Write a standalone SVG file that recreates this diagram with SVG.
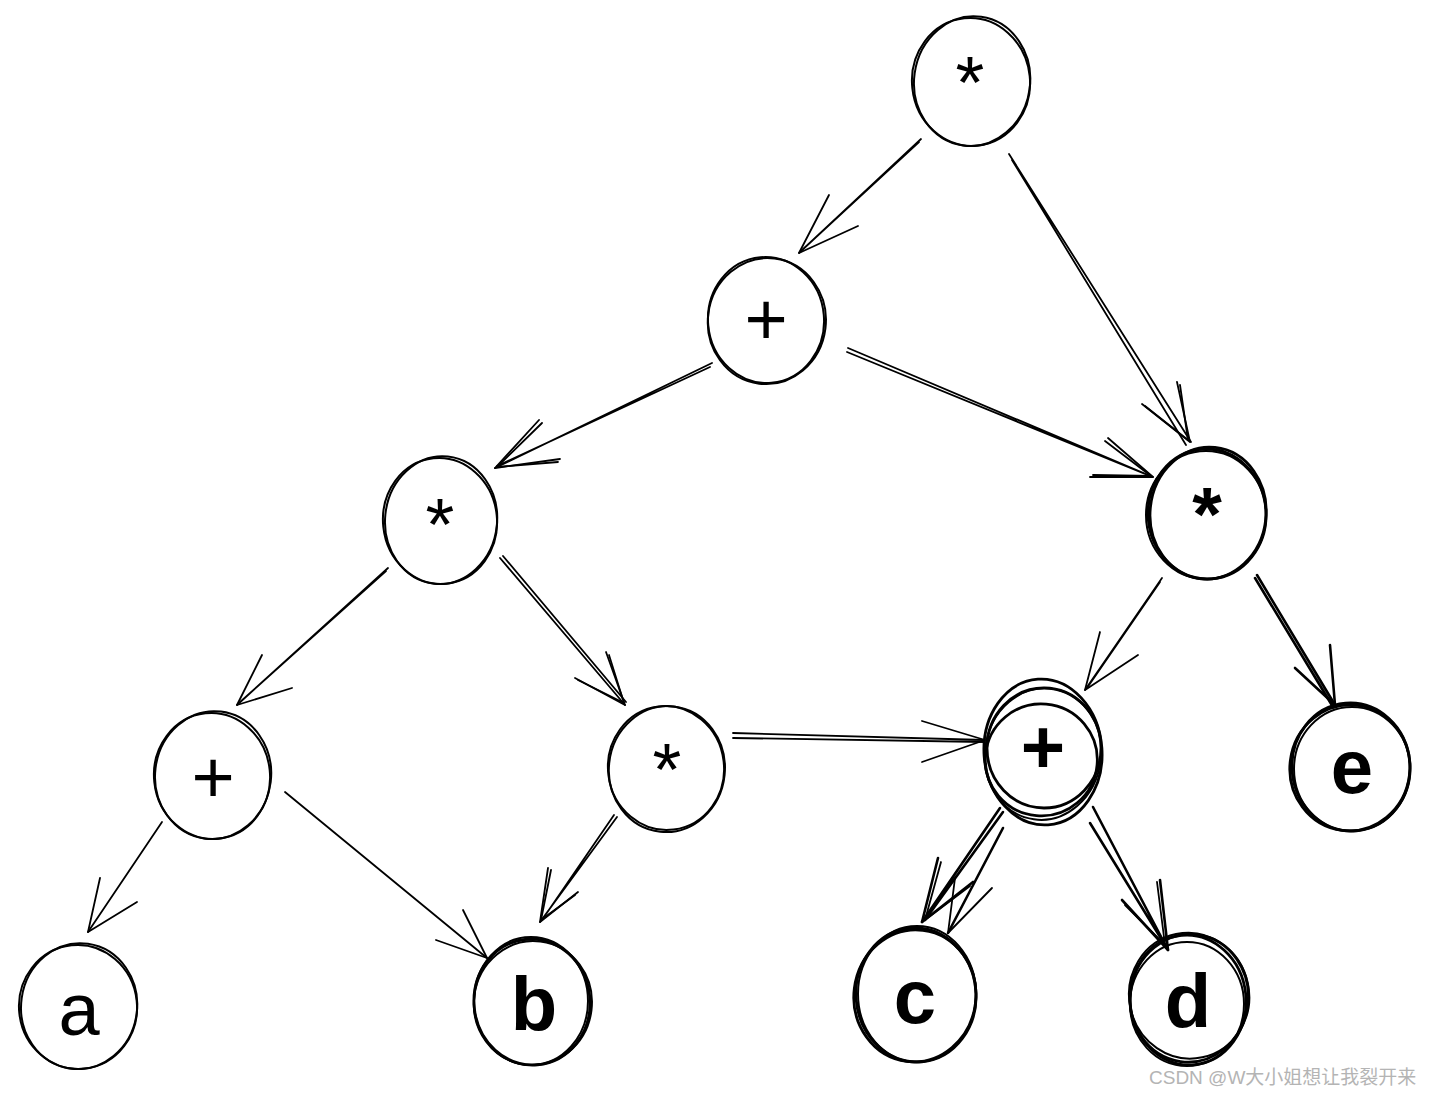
<svg xmlns="http://www.w3.org/2000/svg" width="1432" height="1095" viewBox="0 0 1432 1095">
<style>
.bg{fill:#ffffff}
.c1{fill:none;stroke:#000;stroke-width:2}
.c2{fill:none;stroke:#000;stroke-width:2.8}
.e{fill:none;stroke:#000;stroke-width:1.8;stroke-linecap:round;stroke-linejoin:round}
.eb{fill:none;stroke:#000;stroke-width:2.6;stroke-linecap:round;stroke-linejoin:round}
.t{font-family:"Liberation Sans",Arial,sans-serif;font-size:74px;fill:#000;text-anchor:middle}
.tb{font-family:"Liberation Sans",Arial,sans-serif;font-size:76px;font-weight:bold;fill:#000;text-anchor:middle}
.wm{font-family:"Liberation Sans","Noto Sans CJK SC",sans-serif;font-size:19px;fill:#b4b4b4}
</style>
<rect class="bg" x="0" y="0" width="1432" height="1095"/>

<g id="connectors">
  <g id="e1"><path class="e" d="M921,139 L799,253 M919,142 L801,251"/><polyline class="e" points="829,195 799,253 858,226"/></g>
  <g id="e2"><path class="e" d="M1009,154 L1191,442 M1012,160 L1186,445"/><polyline class="e" points="1177,382 1190,442 1142,404"/><polyline class="e" points="1180,385 1188,440 1145,406"/></g>
  <g id="e3"><path class="e" d="M712,363 L495,468 M710,367 L497,466"/><polyline class="e" points="539,420 495,468 560,459"/><polyline class="e" points="542,423 497,467 558,462"/></g>
  <g id="e4"><path class="e" d="M848,348 L1153,477 M847,352 L1150,476"/><polyline class="e" points="1108,438 1153,477 1090,477"/><polyline class="e" points="1105,441 1151,476 1093,475"/></g>
  <g id="e5"><path class="e" d="M388,568 L237,705 M386,571 L239,703"/><polyline class="e" points="262,655 237,705 292,688"/></g>
  <g id="e6"><path class="e" d="M500,558 L625,705 M503,556 L626,702"/><polyline class="e" points="606,652 625,705 575,678"/><polyline class="e" points="609,655 624,703 578,680"/></g>
  <g id="e7"><path class="e" d="M162,822 L88,932"/><polyline class="e" points="100,878 88,932 137,902"/></g>
  <g id="e8"><path class="e" d="M285,792 L487,958"/><polyline class="e" points="463,910 487,958 436,940"/></g>
  <g id="e9"><path class="e" d="M617,817 L540,922 M614,815 L542,920"/><polyline class="e" points="548,868 540,922 578,892"/><polyline class="e" points="551,870 541,920 575,895"/></g>
  <g id="e10"><path class="e" d="M733,733 L985,740 M733,738 L985,742"/><polyline class="e" points="922,721 985,740 922,762"/></g>
  <g id="e11"><path class="e" d="M1162,578 L1085,690 M1160,582 L1087,688"/><polyline class="e" points="1100,632 1085,690 1138,655"/></g>
  <g id="e12"><path class="eb" d="M1257,575 L1335,705 M1255,578 L1333,707"/><polyline class="eb" points="1330,645 1335,705 1295,668"/></g>
  <g id="e13"><path class="eb" d="M1000,808 L922,922 M1003,812 L925,920 M1003,828 L948,933"/><polyline class="eb" points="938,858 922,922 973,882"/><polyline class="e" points="955,878 948,933 992,888"/><polyline class="e" points="941,862 925,920 970,886"/></g>
  <g id="e14"><path class="eb" d="M1093,807 L1168,950 M1090,823 L1165,945"/><polyline class="eb" points="1160,880 1168,950 1122,900"/><polyline class="e" points="1157,882 1165,945 1125,905"/></g>
</g>

<g id="n-top-mul"><ellipse class="c1" cx="971" cy="82" rx="59" ry="64" transform="rotate(-6 971 82)"/><ellipse class="c1" cx="972" cy="81" rx="58" ry="65" transform="rotate(8 971 82)"/><text class="t" x="970" y="108">*</text></g>
<g id="n-plus1"><ellipse class="c1" cx="766" cy="320" rx="58" ry="63" transform="rotate(-5 766 320)"/><ellipse class="c1" cx="767" cy="321" rx="59" ry="63" transform="rotate(7 766 320)"/><text class="t" x="766" y="345">+</text></g>
<g id="n-mul-left"><ellipse class="c1" cx="440" cy="521" rx="57" ry="63" transform="rotate(-6 440 521)"/><ellipse class="c1" cx="441" cy="520" rx="56" ry="64" transform="rotate(6 440 521)"/><text class="t" x="440" y="550">*</text></g>
<g id="n-mul-right"><ellipse class="c2" cx="1207" cy="514" rx="59" ry="65" transform="rotate(-4 1207 514)"/><ellipse class="c2" cx="1208" cy="513" rx="58" ry="66" transform="rotate(6 1207 514)"/><ellipse class="c1" cx="1206" cy="515" rx="60" ry="64"/><text class="tb" x="1207" y="540">*</text></g>
<g id="n-plus-bl"><ellipse class="c1" cx="212" cy="776" rx="58" ry="63" transform="rotate(-6 212 776)"/><ellipse class="c1" cx="213" cy="775" rx="58" ry="64" transform="rotate(7 212 776)"/><text class="t" x="213" y="803">+</text></g>
<g id="n-mul-mid"><ellipse class="c1" cx="666" cy="768" rx="58" ry="62" transform="rotate(-7 666 768)"/><ellipse class="c1" cx="667" cy="769" rx="58" ry="63" transform="rotate(6 666 768)"/><text class="t" x="667" y="795">*</text></g>
<g id="n-plus-right"><ellipse class="c2" cx="1043" cy="752" rx="59" ry="73" transform="rotate(-4 1043 752)"/><ellipse class="c2" cx="1042" cy="760" rx="56" ry="56" transform="rotate(5 1043 752)"/><ellipse class="c2" cx="1044" cy="748" rx="57" ry="60"/><ellipse class="c1" cx="1043" cy="754" rx="58" ry="66" transform="rotate(8 1043 754)"/><text class="tb" x="1043" y="773">+</text></g>
<g id="n-e"><ellipse class="c2" cx="1351" cy="767" rx="59" ry="64" transform="rotate(-5 1351 767)"/><ellipse class="c2" cx="1350" cy="768" rx="60" ry="63" transform="rotate(7 1351 767)"/><ellipse class="c1" cx="1352" cy="769" rx="58" ry="62"/><text class="tb" x="1352" y="793">e</text></g>
<g id="n-a"><ellipse class="c1" cx="78" cy="1007" rx="59" ry="62" transform="rotate(-6 78 1007)"/><ellipse class="c1" cx="79" cy="1006" rx="58" ry="63" transform="rotate(8 78 1007)"/><text class="t" x="79" y="1035">a</text></g>
<g id="n-b"><ellipse class="c2" cx="532" cy="1002" rx="58" ry="63" transform="rotate(-5 532 1002)"/><ellipse class="c1" cx="533" cy="1003" rx="59" ry="62" transform="rotate(7 532 1002)"/><ellipse class="c1" cx="531" cy="1001" rx="57" ry="64"/><text class="tb" x="534" y="1030">b</text></g>
<g id="n-c"><ellipse class="c2" cx="916" cy="995" rx="60" ry="67" transform="rotate(-5 916 995)"/><ellipse class="c2" cx="915" cy="996" rx="61" ry="66" transform="rotate(7 916 995)"/><ellipse class="c1" cx="917" cy="994" rx="59" ry="68"/><text class="tb" x="915" y="1023">c</text></g>
<g id="n-d"><ellipse class="c2" cx="1188" cy="1000" rx="58" ry="65" transform="rotate(-6 1188 1000)"/><ellipse class="c2" cx="1189" cy="998" rx="59" ry="64" transform="rotate(8 1188 1000)"/><ellipse class="c1" cx="1187" cy="1004" rx="57" ry="62"/><ellipse class="c1" cx="1190" cy="996" rx="60" ry="63" transform="rotate(-12 1188 1000)"/><text class="tb" x="1188" y="1027">d</text></g>

<text class="wm" x="1149" y="1084">CSDN @W大小姐想让我裂开来</text>
</svg>
